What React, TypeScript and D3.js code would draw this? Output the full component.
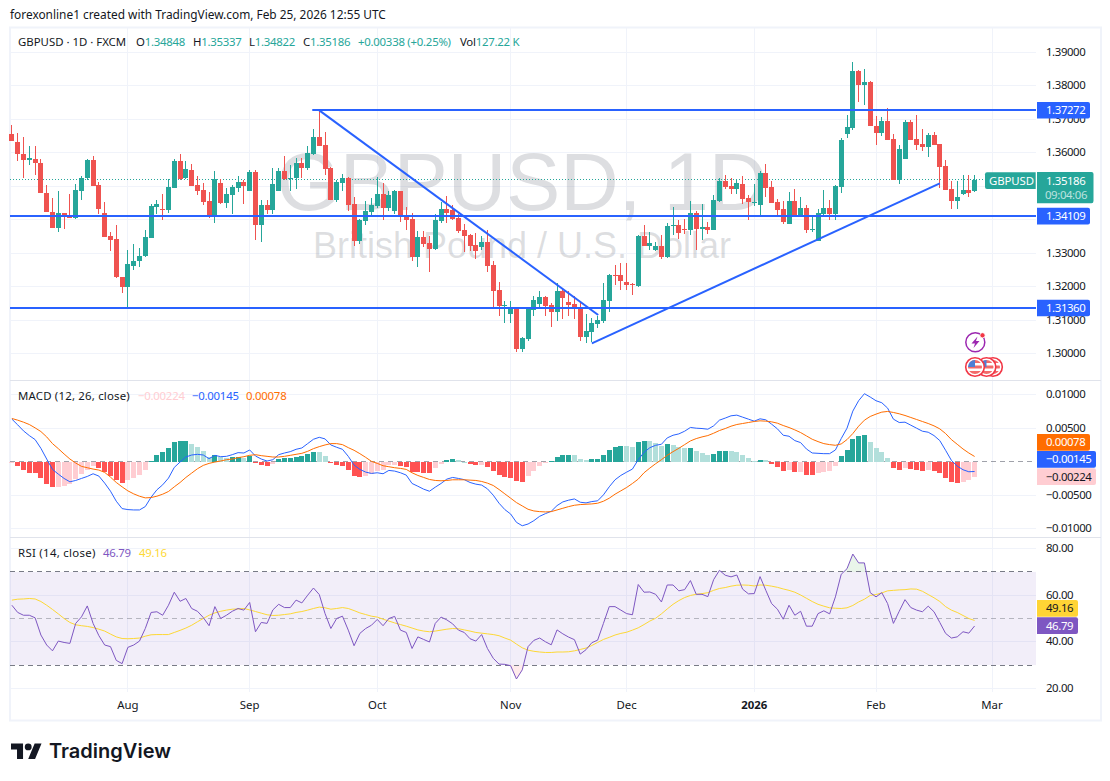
import React from "react";
import * as d3 from "d3";

// Prices are in 1/10000 units (13656 = 1.3656)
const opens = [13656,13632,13598,13578,13583,13571,13481,13424,13375,13419,13412,13405,13486,13524,13578,13503,13419,13350,13341,13230,13198,13263,13276,13291,13344,13438,13433,13428,13494,13575,13524,13548,13503,13488,13455,13408,13509,13449,13473,13494,13512,13485,13542,13383,13443,13428,13485,13545,13524,13524,13569,13554,13596,13647,13623,13554,13458,13509,13524,13446,13335,13395,13422,13440,13476,13434,13425,13485,13413,13401,13290,13347,13329,13311,13395,13431,13428,13405,13368,13353,13323,13317,13332,13266,13191,13144,13119,13137,13014,13044,13131,13149,13170,13146,13125,13188,13155,13149,13137,13050,13065,13089,13098,13158,13236,13236,13215,13209,13203,13350,13320,13308,13320,13290,13380,13383,13371,13368,13419,13371,13377,13368,13455,13517,13500,13491,13508,13465,13452,13445,13541,13499,13453,13433,13388,13457,13415,13436,13371,13337,13418,13436,13418,13499,13655,13673,13844,13802,13811,13679,13658,13694,13640,13520,13583,13691,13640,13625,13616,13652,13625,13562,13493,13457,13478,13490,13485];
const highs = [13683,13658,13646,13620,13620,13583,13503,13466,13485,13421,13476,13508,13532,13583,13590,13513,13452,13363,13383,13230,13308,13328,13316,13368,13446,13458,13476,13523,13583,13596,13575,13566,13530,13510,13482,13545,13521,13494,13503,13530,13518,13548,13548,13458,13458,13554,13554,13590,13563,13584,13584,13620,13671,13728,13662,13558,13518,13536,13527,13467,13401,13455,13466,13527,13509,13485,13488,13485,13437,13419,13365,13365,13350,13416,13452,13470,13443,13416,13386,13356,13359,13350,13368,13278,13215,13158,13158,13137,13050,13137,13173,13188,13173,13152,13212,13197,13188,13173,13152,13119,13107,13113,13212,13239,13266,13272,13272,13212,13353,13383,13362,13332,13353,13389,13437,13398,13401,13455,13425,13446,13392,13473,13524,13533,13524,13521,13530,13475,13507,13547,13568,13517,13462,13457,13484,13493,13467,13445,13409,13432,13490,13460,13505,13645,13712,13871,13847,13850,13814,13709,13706,13733,13655,13622,13697,13697,13712,13670,13658,13661,13627,13580,13517,13517,13535,13535,13534];
const lows = [13636,13576,13525,13563,13533,13480,13423,13375,13363,13371,13405,13402,13460,13518,13500,13416,13348,13305,13225,13182,13136,13251,13258,13288,13344,13416,13398,13420,13494,13520,13522,13500,13473,13445,13404,13389,13446,13434,13416,13482,13446,13485,13338,13332,13416,13416,13485,13518,13485,13491,13524,13548,13593,13620,13533,13458,13452,13485,13425,13320,13326,13383,13413,13434,13398,13425,13416,13392,13368,13278,13260,13317,13245,13308,13389,13389,13398,13359,13302,13305,13284,13308,13245,13137,13113,13092,13092,13005,13005,13038,13113,13137,13113,13080,13098,13104,13113,13104,13038,13032,13035,13077,13092,13125,13206,13191,13191,13176,13200,13320,13308,13305,13284,13287,13353,13341,13356,13353,13308,13338,13356,13368,13452,13491,13476,13476,13447,13400,13442,13412,13467,13451,13412,13387,13388,13415,13412,13361,13364,13337,13409,13400,13400,13481,13644,13667,13751,13742,13679,13622,13649,13637,13520,13508,13583,13637,13607,13604,13589,13622,13495,13490,13433,13433,13475,13469,13482];
const closes = [13636,13598,13578,13584,13570,13480,13423,13375,13419,13411,13405,13488,13526,13578,13500,13432,13348,13338,13228,13198,13269,13278,13293,13347,13440,13446,13431,13497,13575,13523,13551,13500,13485,13452,13407,13521,13449,13476,13497,13512,13500,13542,13383,13443,13428,13506,13545,13523,13526,13569,13554,13599,13647,13620,13551,13458,13512,13524,13443,13335,13398,13425,13443,13476,13434,13473,13485,13410,13398,13290,13347,13326,13311,13398,13431,13419,13401,13365,13350,13320,13305,13332,13263,13188,13143,13146,13137,13014,13047,13137,13161,13170,13143,13125,13188,13167,13146,13134,13050,13068,13092,13101,13161,13236,13233,13218,13206,13206,13350,13320,13329,13320,13290,13380,13383,13359,13368,13419,13371,13377,13368,13458,13517,13497,13491,13509,13463,13452,13454,13541,13496,13451,13430,13394,13457,13415,13436,13370,13373,13421,13436,13418,13502,13637,13676,13844,13802,13811,13679,13658,13694,13637,13520,13610,13691,13637,13622,13616,13652,13622,13559,13490,13457,13469,13490,13481,13519];

// MACD values are in 1/100000 units
const macdHist = [-10,-70,-130,-165,-175,-250,-330,-385,-380,-365,-340,-260,-180,-130,-70,-90,-160,-210,-280,-325,-280,-240,-205,-130,5,95,140,200,290,305,306,270,215,155,70,100,65,50,65,75,55,80,-20,-50,-70,-40,35,50,55,75,80,115,140,139,90,-20,-55,-70,-130,-220,-235,-220,-180,-140,-120,-55,-50,-65,-85,-160,-161,-175,-176,-100,-40,20,35,20,2,-35,-55,-54,-85,-145,-205,-235,-236,-295,-296,-220,-145,-70,-25,5,65,95,96,94,35,20,35,36,95,170,215,230,229,215,290,305,304,275,230,260,245,215,200,201,155,125,95,110,155,156,155,140,95,50,5,30,20,-35,-85,-145,-130,-160,-150,-195,-205,-175,-150,-135,-70,80,170,335,380,395,290,200,140,50,-100,-130,-100,-115,-130,-145,-130,-145,-175,-250,-310,-325,-310,-280,-224];
const macdSignal = [645,620,590,555,505,450,370,270,195,115,40,-20,-70,-90,-110,-125,-160,-230,-310,-375,-435,-480,-515,-540,-535,-515,-485,-445,-375,-310,-235,-170,-105,-55,-25,-5,10,30,40,60,75,95,105,90,80,70,70,80,95,110,125,155,195,225,250,270,270,255,210,170,120,65,5,-25,-60,-75,-90,-100,-115,-165,-205,-235,-265,-280,-285,-280,-270,-270,-270,-275,-280,-295,-320,-355,-415,-480,-545,-610,-660,-710,-735,-745,-750,-745,-720,-695,-670,-650,-640,-635,-630,-620,-590,-545,-485,-435,-385,-325,-260,-165,-95,-30,30,95,150,200,255,310,345,370,390,425,465,495,530,555,570,585,600,610,605,595,575,540,510,475,435,385,335,300,270,255,245,265,330,420,530,620,675,710,740,750,735,715,690,660,630,600,570,535,490,420,330,260,190,130,78];

const rsi = [55.7,52.6,51.4,51.4,50.3,42.9,38.6,36.1,40.3,39.7,39.3,47.9,50.7,55.4,47.9,42.6,38.6,37.9,32,30.6,37.6,38.6,40.3,45.7,52.6,52.9,51.4,55.7,61.3,57.4,58.6,54.3,53.1,50.4,46.9,55.1,50,51.4,53.1,54.3,53.6,56.9,44.3,48.3,47.9,53.7,56.1,54.7,54.7,57.9,56.7,60,63.1,60.3,52.1,45.7,50,51,45,38.3,43.6,45.7,47.1,49.6,46.9,50,50.9,45,44,37.1,42.1,41,39.9,47.9,50.6,49.4,47.7,45,44,41.3,40.3,43.1,37.1,32.9,30.4,30.3,29.7,24,27.9,37.9,40.6,41.6,40,38.7,45.1,43.4,42,40.9,34.7,36.6,39.6,40.7,47.9,55.1,55.1,53.6,52.1,51.6,64.6,61.3,61.4,60.4,57.1,64.4,64.4,61.9,62.4,66.3,60.4,60.4,59.4,66.7,70.7,68.6,67.9,68.7,62.6,60.6,60.7,68,62.1,56.4,54,49.7,55.7,51.4,53.1,46.7,46.7,52.1,53.3,52,59.3,69,71.4,77.7,73.9,73.9,61.1,59.3,61.1,56.4,47.9,53.1,58.1,54.7,53.6,52.9,55.3,52.9,48.3,43.6,41.6,42.1,44.3,43.7,46.79];
const rsiMa = [57.9,58.3,58.4,58.6,58.4,57.3,55.7,53.9,52,50,48.3,47.3,46.9,46.6,46.1,45.4,44.6,43.3,42.1,41.4,41.3,41.4,41.6,42.4,43,43.1,43.1,43.1,44,44.9,45.9,47.1,48.6,50,51.4,52.4,53.1,53.6,54,54.1,54.3,53.7,53,52.3,51.6,51.3,51.4,51.7,52,52.6,53,53.6,54.3,54.9,54.6,54,54.3,54.7,54.3,53.4,52.4,51.7,51,50.6,49.7,48.9,48.1,47.4,46.7,45.9,45.1,44.6,44.3,44.6,45,45.4,45.7,45.6,45.1,44.6,44,43.7,43.4,43.1,42.6,41.6,40.7,39,37.4,36.4,35.9,35.6,35.4,35.4,35.6,35.6,35.7,36.1,36.7,37.3,38.4,39.7,41,41.9,42.9,43.6,44.1,45,46,47.4,48.9,50.1,52,54.1,56.1,57.7,59,59.9,60.4,60.7,61.1,62.1,62.9,63.3,63.9,64.3,64.4,64.3,64,64.4,64.3,63.9,63.4,62.7,62.1,61.3,60.1,58.7,57.3,56.1,55.3,54.6,54.4,54.3,54.6,55.6,57.1,58.3,59.9,60.3,61,61.9,62.1,62.3,62.4,62.7,62.6,61.7,60.3,58.9,57.3,55.1,53.6,52.6,51.3,50,49.16];

const priceTicks = [1.39,1.38,1.37,1.36,1.33,1.32,1.31,1.3];
const priceGridExtra = [1.35,1.34];
const priceTickLabels = ["1.39000","1.38000","1.37000","1.36000","1.33000","1.32000","1.31000","1.30000"];
const macdTicks = [0.01,0.005,-0.005,-0.01];
const macdTickLabels = ["0.01000","0.00500","\u22120.00500","\u22120.01000"];
const rsiTicks = [80,60,40,20];
const rsiTickLabels = ["80.00","60.00","40.00","20.00"];
const timeTicks = [20,41,63,86,106,128,149,169];
const timeLabels = ["Aug","Sep","Oct","Nov","Dec","2026","Feb","Mar"];
const hLevels = [1.37272,1.34109,1.3136];
const hLevelLabels = ["1.37272","1.34109","1.31360"];
const hLevelStart = [53,-1,-1];
const trendA = [[53,1.3727],[101.1,1.3115]];
const trendB = [[100,1.30304],[160,1.35089]];

const FONT = "'Noto Sans', sans-serif";
const BLUE = "#2962ff", GREEN = "#26a69a", RED = "#ef5350", INK = "#131722", GRID = "#f0f3fa";
const L = 10, R = 1036;
const LS = -0.4;

const x = d3.scaleLinear().domain([0,169]).range([11.9,992]);
const yP = d3.scaleLinear().domain([1.3,1.39]).range([353.5,52.5]);
const yM = d3.scaleLinear().domain([-0.01,0.01]).range([528.7,394.7]);
const yR = d3.scaleLinear().domain([20,80]).range([688.3,548.7]);
const pr = (p:number)=>Math.round(yP(p/10000));
const crisp = (v:number)=>Math.floor(v)+0.5;

const usd = (cx:number,cy:number,k:number)=>(
  <g key={k}>
    <circle cx={cx} cy={cy} r={9.3} fill="#fff" stroke="#f23645" strokeWidth={1.6}/>
    <clipPath id={"c"+k}><circle cx={cx} cy={cy} r={7}/></clipPath>
    <g clipPath={`url(#c${k})`}>
      <rect x={cx-8} y={cy-8} width={16} height={16} fill="#fff"/>
      <rect x={cx-8} y={cy-7} width={16} height={3} fill="#f26a6a"/>
      <rect x={cx-8} y={cy-1.5} width={16} height={3} fill="#f26a6a"/>
      <rect x={cx-8} y={cy+4} width={16} height={3} fill="#f26a6a"/>
      <rect x={cx-8} y={cy-8} width={8} height={8} fill="#4d7fd6"/>
    </g>
  </g>
);

const Tag = ({x0,x1,y0,y1,fill,text,color="#fff",tx}:any)=>(
  <g>
    <path d={`M${x0} ${y0}H${x1-2}Q${x1} ${y0} ${x1} ${y0+2}V${y1-2}Q${x1} ${y1} ${x1-2} ${y1}H${x0}Z`} fill={fill}/>
    <text x={tx??1046} y={(y0+y1)/2+4} fontSize={11.4} letterSpacing={LS} fill={color}>{text}</text>
  </g>
);

export default function App(){
  const n = closes.length;
  const macdLine = macdSignal.map((s,i)=>s+macdHist[i]);
  const lineM = d3.line<number>().x((_,i)=>x(i)).y(d=>yM(d/100000));
  const lineR = d3.line<number>().x((_,i)=>x(i)).y(d=>yR(d));
  const histColor=(v:number,i:number)=>{
    const p = i>0?macdHist[i-1]:v;
    if(v>=0) return v>=p?"#26a69a":"#b2dfdb";
    return v<p?"#ff5252":"#ffcdd2";
  };
  const areaOver = d3.area<number>().x((_,i)=>x(i)).y0(yR(70)).y1(d=>yR(d));
  const areaUnder = d3.area<number>().x((_,i)=>x(i)).y0(yR(30)).y1(d=>yR(d));
  const lastY = crisp(yP(closes[n-1]/10000));
  return (
    <svg width={1110} height={781} style={{position:"absolute",left:0,top:0,background:"#fff"}} fontFamily={FONT}>
      <defs>
        <clipPath id="above70"><rect x={L} y={540} width={R-L} height={yR(70)-540}/></clipPath>
        <clipPath id="below30"><rect x={L} y={yR(30)} width={R-L} height={30}/></clipPath>
      </defs>
      <text x={10} y={19} fontSize={11.88} fill={INK}>forexonline1 created with TradingView.com, Feb 25, 2026 12:55 UTC</text>
      <rect x={10} y={27.5} width={1091} height={693} fill="#fff" stroke={GRID} strokeWidth={2}/>

      {/* grid */}
      {timeTicks.map((t,i)=><line key={i} x1={crisp(x(t))} x2={crisp(x(t))} y1={28} y2={692} stroke={GRID} strokeWidth={1}/>)}
      {priceTicks.concat(priceGridExtra).map((t,i)=><line key={i} x1={L} x2={R} y1={crisp(yP(t))} y2={crisp(yP(t))} stroke={GRID} strokeWidth={1}/>)}
      {macdTicks.map((t,i)=><line key={i} x1={L} x2={R} y1={crisp(yM(t))} y2={crisp(yM(t))} stroke={GRID} strokeWidth={1}/>)}
      {rsiTicks.map((t,i)=><line key={i} x1={L} x2={R} y1={crisp(yR(t))} y2={crisp(yR(t))} stroke={GRID} strokeWidth={1}/>)}

      {/* watermark */}
      <g fontFamily="'Liberation Sans', sans-serif" fill="#787b86" fillOpacity={0.25} textAnchor="middle">
        <text x={522} y={210} fontSize={81}>GBPUSD, 1D</text>
        <text x={522} y={258} fontSize={36}>British Pound / U.S. Dollar</text>
      </g>

      {/* price dotted */}
      <line x1={L} x2={R} y1={lastY} y2={lastY} stroke={GREEN} strokeWidth={1} strokeDasharray="1 2"/>

      {/* candles */}
      {closes.map((c,i)=>{
        const col = c>=opens[i]?GREEN:RED;
        const t = pr(Math.max(c,opens[i])), b = pr(Math.min(c,opens[i]));
        const cx = Math.floor(x(i));
        return <g key={i}>
          <rect x={cx} y={pr(highs[i])} width={1} height={Math.max(pr(lows[i])-pr(highs[i]),1)} fill={col}/>
          <rect x={cx-2} y={t} width={5} height={Math.max(b-t,1)} fill={col}/>
        </g>;
      })}

      {/* drawings */}
      {hLevels.map((p,i)=>{const yy=Math.round(yP(p));return <line key={i} x1={hLevelStart[i]<0?L:x(hLevelStart[i])-7} x2={R} y1={yy} y2={yy} stroke={BLUE} strokeWidth={2}/>;})}
      {[trendA,trendB].map((t,i)=><line key={i} x1={x(t[0][0])} y1={yP(t[0][1])} x2={x(t[1][0])} y2={yP(t[1][1])} stroke={BLUE} strokeWidth={2}/>)}

      {/* events */}
      <g>
        {usd(993,367,3)}{usd(986.5,367,2)}{usd(975,367,1)}
        <circle cx={975.3} cy={342.3} r={9.5} fill="#fff" stroke="#9c27b0" strokeWidth={1.5}/>
        <path d="M977.5 336.5 L971.5 343.5 H975 L973.5 348 L979.5 341 H976 Z" fill="#9c27b0"/>
        <circle cx={982.5} cy={335.3} r={2.6} fill="#f23645" stroke="#fff" strokeWidth={0.8}/>
      </g>

      {/* panes */}
      <line x1={10} x2={1101} y1={380.5} y2={380.5} stroke="#e0e3eb" strokeWidth={1}/>
      <line x1={10} x2={1101} y1={537.5} y2={537.5} stroke="#e0e3eb" strokeWidth={1}/>

      {/* MACD */}
      <line x1={L} x2={R} y1={crisp(yM(0))} y2={crisp(yM(0))} stroke="#787b86" strokeOpacity={0.7} strokeDasharray="5 4"/>
      {macdHist.map((v,i)=>{
        const y0=Math.round(yM(0)), y1=Math.round(yM(v/100000));
        return <rect key={i} x={Math.floor(x(i))-2} y={Math.min(y0,y1)} width={5} height={Math.max(Math.abs(y1-y0),1)} fill={histColor(v,i)}/>;
      })}
      <path d={lineM(macdLine)||""} fill="none" stroke="#2962ff" strokeWidth={1}/>
      <path d={lineM(macdSignal)||""} fill="none" stroke="#ff6d00" strokeWidth={1}/>

      {/* RSI */}
      <rect x={L} y={yR(70)} width={R-L} height={yR(30)-yR(70)} fill="#7e57c2" fillOpacity={0.1}/>
      <path d={areaOver(rsi)||""} clipPath="url(#above70)" fill="#4caf50" fillOpacity={0.12}/>
      <path d={areaUnder(rsi)||""} clipPath="url(#below30)" fill="#f23645" fillOpacity={0.1}/>
      <line x1={L} x2={R} y1={crisp(yR(70))} y2={crisp(yR(70))} stroke="#787b86" strokeDasharray="5 4"/>
      <line x1={L} x2={R} y1={crisp(yR(50))} y2={crisp(yR(50))} stroke="#787b86" strokeOpacity={0.5} strokeDasharray="5 4"/>
      <line x1={L} x2={R} y1={crisp(yR(30))} y2={crisp(yR(30))} stroke="#787b86" strokeDasharray="5 4"/>
      <path d={lineR(rsiMa)||""} fill="none" stroke="#fdd835" strokeWidth={1}/>
      <path d={lineR(rsi)||""} fill="none" stroke="#7e57c2" strokeWidth={1}/>

      {/* right axis */}
      <g fontSize={11.4} fill={INK} letterSpacing={LS}>
        {priceTickLabels.map((t,i)=><text key={i} x={1046} y={yP(priceTicks[i])+3.5}>{t}</text>)}
        {macdTickLabels.map((t,i)=><text key={i} x={1046} y={yM(macdTicks[i])+3.5}>{t}</text>)}
        {rsiTickLabels.map((t,i)=><text key={i} x={1046} y={yR(rsiTicks[i])+3.5}>{t}</text>)}
      </g>
      {hLevelLabels.map((t,i)=><Tag key={i} x0={1037} x1={1090} y0={yP(hLevels[i])-8.3} y1={yP(hLevels[i])+8.3} fill={BLUE} text={t}/>)}
      <path d="M1037 172H1091.5Q1093.5 172 1093.5 174V201Q1093.5 203.3 1091.5 203.3H1037Z" fill={GREEN}/>
      <text x={1046} y={184.5} fontSize={11.4} letterSpacing={LS} fill="#fff">1.35186</text>
      <text x={1045} y={199} fontSize={11.4} letterSpacing={LS} fill="#fff" fillOpacity={0.7}>09:04:06</text>
      <path d="M1035.7 172.2H987Q985 172.2 985 174.2V187Q985 189 987 189H1035.7Z" fill={GREEN}/>
      <text x={989} y={184.5} fontSize={11.4} letterSpacing={-0.1} fill="#fff">GBPUSD</text>
      <Tag x0={1037} x1={1090} y0={434} y1={450.7} fill="#ff6d00" text="0.00078"/>
      <Tag x0={1037} x1={1096} y0={451} y1={467.7} fill={BLUE} text={"\u22120.00145"}/>
      <Tag x0={1037} x1={1096} y0={468.3} y1={485} fill="#ffcdd2" text={"\u22120.00224"} color={INK}/>
      <Tag x0={1037} x1={1078} y0={600} y1={616.7} fill="#ffd435" text="49.16" color={INK}/>
      <Tag x0={1037} x1={1078} y0={617.3} y1={634} fill="#7e57c2" text="46.79"/>

      {/* time axis */}
      <g fontSize={11.4} fill={INK} textAnchor="middle">
        {timeLabels.map((t,i)=><text key={i} x={x(timeTicks[i])} y={709} fontWeight={t==="2026"?700:400}>{t}</text>)}
      </g>

      {/* legends */}
      <g fontSize={11.4} fill={INK}>
        <text x={18} y={46}>GBPUSD · 1D · FXCM</text>
        <g letterSpacing={-0.25}>
          <text x={136} y={46}>O<tspan fill={GREEN}>1.34848</tspan></text>
          <text x={193} y={46}>H<tspan fill={GREEN}>1.35337</tspan></text>
          <text x={249} y={46}>L<tspan fill={GREEN}>1.34822</tspan></text>
          <text x={303} y={46}>C<tspan fill={GREEN}>1.35186</tspan></text>
          <text x={358} y={46} fill={GREEN}>+0.00338 (+0.25%)</text>
          <text x={460} y={46}>Vol<tspan fill={GREEN}>127.22 K</tspan></text>
        </g>
        <text x={18} y={399.5} letterSpacing={0.2}>MACD (12, 26, close)</text>
        <g letterSpacing={-0.25}>
          <text x={138} y={399.5} fill="#ffcdd2">{"\u22120.00224"}</text>
          <text x={192} y={399.5} fill={BLUE}>{"\u22120.00145"}</text>
          <text x={246} y={399.5} fill="#ff6d00">0.00078</text>
        </g>
        <text x={18} y={556.5} letterSpacing={0.3}>RSI (14, close)</text>
        <text x={103} y={556.5} fill="#7e57c2" letterSpacing={-0.25}>46.79</text>
        <text x={139} y={556.5} fill="#fdd835" letterSpacing={-0.25}>49.16</text>
      </g>

      {/* logo */}
      <g transform="translate(11,740) scale(0.86)" fill={INK}>
        <path d="M14 22H7V11H0V4h14v18zM28 22h-8l7.5-18h8L28 22z"/>
        <circle cx={20} cy={8} r={4}/>
      </g>
      <text x={49} y={758} fontSize={20} fontWeight={600} fill={INK} fontFamily="'Inter', sans-serif" textLength={122}>TradingView</text>
    </svg>
  );
}
